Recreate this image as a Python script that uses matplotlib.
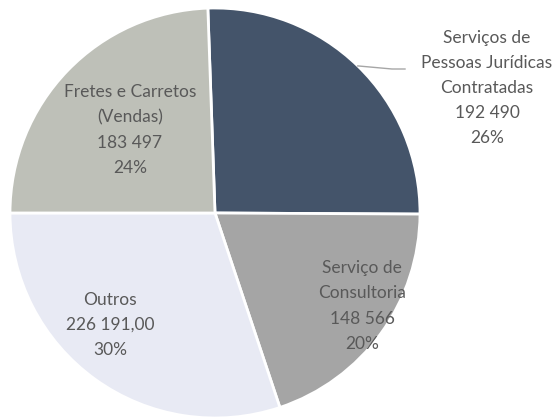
import numpy as np
import matplotlib.pyplot as plt

# slice data (clockwise from the top)
labels = ['Serviços de\nPessoas Jurídicas\nContratadas', 'Serviço de\nConsultoria', 'Outros', 'Fretes e Carretos\n(Vendas)']
values = [192490, 148566, 226191, 183497]
value_txt = ['192 490', '148 566', '226 191,00', '183 497']
colors = ['#44546A', '#A5A5A5', '#E8EAF4', '#BEC0B8']

plt.rcParams['font.family'] = ['Lato', 'DejaVu Sans']

fig = plt.figure(figsize=(5.57, 4.17), dpi=100)
ax = fig.add_axes([0, 0, 1, 1])
R = 205.0
cx, cy = 215.0, 213.0

start = 92
wedges, _ = ax.pie(values, colors=colors, startangle=start, counterclock=False,
                   radius=1.0, wedgeprops=dict(edgecolor='white', linewidth=2))

ax.set_xlim(-cx / R, (557 - cx) / R)
ax.set_ylim(-(417 - cy) / R, cy / R)
ax.set_aspect('equal')
ax.axis('off')

total = sum(values)
pcts = [f'{round(v / total * 100):.0f}%' for v in values]

# label anchor positions in pixels (x, y of label centre)
label_px = [(487, 88), (362, 306), (110, 325), (130, 130)]

def px2data(px, py):
    return (px - cx) / R, (cy - py) / R

for i, (lab, vt, pc) in enumerate(zip(labels, value_txt, pcts)):
    x, y = px2data(*label_px[i])
    ax.text(x, y, f'{lab}\n{vt}\n{pc}', ha='center', va='center',
            fontsize=12.5, color='#595959', linespacing=1.7)

# leader line for the first slice
mid = np.deg2rad(start - values[0] / total * 360 / 2)
x0, y0 = np.cos(mid), np.sin(mid)
x1, y1 = px2data(392, 69)
x2, y2 = px2data(405, 69)
ax.plot([x0, x1, x2], [y0, y1, y2], color='#A6A6A6', lw=1)

fig.savefig('out.png', dpi=100)
